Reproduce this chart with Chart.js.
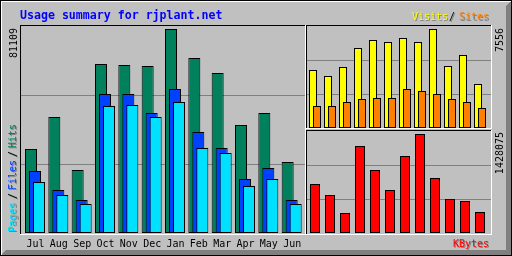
<!DOCTYPE html>
<html>
<head>
<meta charset="utf-8">
<script src="https://cdn.jsdelivr.net/npm/chart.js@4"></script>
<style>
  body { margin: 0; background: #c0c0c0; }
  #wrap { position: relative; width: 512px; height: 256px; }
  canvas { position: absolute; }
</style>
</head>
<body>
<div id="wrap">
  <canvas id="mainChart" width="512" height="256" style="left:0;top:0"></canvas>
  <canvas id="visitChart" width="184" height="102" style="left:307px;top:26px"></canvas>
  <canvas id="kbChart" width="184" height="103" style="left:307px;top:131px"></canvas>
</div>
<script>
// monthly summary
const months = ['Jul', 'Aug', 'Sep', 'Oct', 'Nov', 'Dec', 'Jan', 'Feb', 'Mar', 'Apr', 'May', 'Jun'];
const hits   = [33400, 46120, 25050, 67190, 66800, 66400, 81109, 69580, 63620, 42940, 47710, 28230];
const files  = [24650, 17100, 13120, 55270, 55270, 47710, 57250, 40160, 33800, 21470, 25840, 13120];
const pages  = [20280, 15110, 11530, 50500, 50890, 46120, 52090, 33800, 31810, 18690, 21470, 11530];
const visits = [4427, 3969, 4656, 6106, 6716, 6564, 6869, 6564, 7556, 4732, 5572, 3358];
const sites  = [1679, 1679, 1984, 2213, 2290, 2290, 2977, 2824, 2595, 2213, 1984, 1526];
const kbytes = [706800, 548200, 288500, 1255000, 908800, 620300, 1110700, 1428075, 793400, 490500, 461600, 302900];

// axis tops (a little above the tallest bar, like the original)
const hitsAxisMax = 82300;
const visitsAxisMax = 7785;
const kbAxisMax = 1471350;

const HIT_COLOR = '#00805c', FILE_COLOR = '#0040ff', PAGE_COLOR = '#00e0ff';
const VISIT_COLOR = '#ffff00', SITE_COLOR = '#ff8000', KBYTE_COLOR = '#ff0000';
const GRID_COLOR = '#808080', SHADOW = '#808080';
const FONT = '10px "DejaVu Sans Mono"';

const MAIN_STEP = 70 / 3;   // px per month, main panel
const SIDE_STEP = 15;       // px per month, right panels

function points(values, shift) {
    return values.map((v, i) => ({ x: i + shift, y: v }));
}

function barSet(values, shift, color, thickness) {
    return {
        data: points(values, shift),
        backgroundColor: color,
        borderColor: '#000000',
        borderWidth: 1,
        borderSkipped: false,
        inflateAmount: 0,
        barThickness: thickness,
        grouped: false
    };
}

// two grey lines at a third and two thirds of the value axis
const thirdsPlugin = {
    id: 'thirds',
    beforeDatasetsDraw(chart) {
        const ctx = chart.ctx;
        const area = chart.chartArea;
        const y = chart.scales.y;
        ctx.save();
        ctx.strokeStyle = GRID_COLOR;
        ctx.lineWidth = 1;
        [1 / 3, 2 / 3].forEach(t => {
            const py = Math.round(y.getPixelForValue(y.max * t)) + 0.5;
            ctx.beginPath();
            ctx.moveTo(area.left, py);
            ctx.lineTo(area.right, py);
            ctx.stroke();
        });
        ctx.restore();
    }
};

function shadowText(ctx, str, x, y, color) {
    ctx.fillStyle = SHADOW;
    ctx.fillText(str, x + 1, y + 1);
    ctx.fillStyle = color;
    ctx.fillText(str, x, y);
}

// text reading bottom to top
function upText(ctx, str, x, y, color, align, shadow) {
    ctx.save();
    ctx.translate(x, y);
    ctx.rotate(-Math.PI / 2);
    ctx.textAlign = align;
    ctx.textBaseline = 'alphabetic';
    if (shadow) {
        ctx.fillStyle = SHADOW;
        ctx.fillText(str, -1, 1);
    }
    ctx.fillStyle = color;
    ctx.fillText(str, 0, 0);
    ctx.restore();
}

function panel(ctx, x0, y0, x1, y1) {
    ctx.fillStyle = '#000000';
    ctx.fillRect(x0, y0, x1 - x0 + 1, 1);
    ctx.fillRect(x0, y0, 1, y1 - y0 + 1);
    ctx.fillStyle = '#ffffff';
    ctx.fillRect(x0, y1, x1 - x0 + 1, 1);
    ctx.fillRect(x1, y0, 1, y1 - y0 + 1);
}

const pagePlugin = {
    id: 'page',
    beforeDraw(chart) {
        const ctx = chart.ctx;
        ctx.save();
        ctx.fillStyle = '#c0c0c0';
        ctx.fillRect(0, 0, 512, 256);
        // bevel
        ctx.fillStyle = '#808080';
        ctx.beginPath();
        ctx.moveTo(511, 1); ctx.lineTo(511, 255); ctx.lineTo(1, 255);
        ctx.lineTo(6, 250); ctx.lineTo(506, 250); ctx.lineTo(506, 6);
        ctx.closePath();
        ctx.fill();
        ctx.fillStyle = '#ffffff';
        ctx.fillRect(1, 1, 510, 1);
        ctx.fillRect(1, 1, 1, 254);
        ctx.strokeStyle = '#000000';
        ctx.lineWidth = 1;
        ctx.strokeRect(0.5, 0.5, 511, 255);
        ctx.restore();
    },
    afterDraw(chart) {
        const ctx = chart.ctx;
        ctx.save();
        panel(ctx, 20, 25, 305, 234);
        panel(ctx, 306, 25, 491, 128);
        panel(ctx, 306, 130, 491, 234);

        // title
        ctx.font = 'bold 11.6px "DejaVu Sans Mono"';
        ctx.textBaseline = 'alphabetic';
        ctx.textAlign = 'left';
        ctx.fillStyle = '#0000ff';
        ctx.fillText('Usage summary for rjplant.net', 20, 19);

        ctx.font = FONT;
        // month labels under the main panel
        const xs = chart.scales.x;
        ctx.textAlign = 'center';
        ctx.fillStyle = '#000000';
        months.forEach((m, i) => {
            ctx.fillText(m, xs.getPixelForValue(i + 4 / MAIN_STEP) + 0.5, 247);
        });

        // maxima
        upText(ctx, String(Math.max(...hits)), 17, 28, '#000000', 'right', false);
        upText(ctx, String(Math.max(...visits)), 503, 28, '#000000', 'right', false);
        upText(ctx, String(Math.max(...kbytes)), 503, 132, '#000000', 'right', false);

        // left legend
        upText(ctx, 'Pages', 16, 232, PAGE_COLOR, 'left', true);
        upText(ctx, '/', 16, 199, '#000000', 'left', true);
        upText(ctx, 'Files', 16, 190, FILE_COLOR, 'left', true);
        upText(ctx, '/', 16, 157, '#000000', 'left', true);
        upText(ctx, 'Hits', 16, 148, HIT_COLOR, 'left', true);

        // right legends
        ctx.textAlign = 'left';
        shadowText(ctx, 'Visits', 412, 20, VISIT_COLOR);
        shadowText(ctx, '/', 449, 20, '#000000');
        shadowText(ctx, 'Sites', 459, 20, SITE_COLOR);
        ctx.textAlign = 'right';
        shadowText(ctx, 'KBytes', 489, 247, KBYTE_COLOR);
        ctx.restore();
    }
};

const baseOptions = (xMin, xMax, yMax, padding) => ({
    responsive: false,
    animation: false,
    devicePixelRatio: 1,
    layout: { padding: padding },
    plugins: { legend: { display: false }, tooltip: { enabled: false }, title: { display: false } },
    scales: {
        x: { type: 'linear', display: false, offset: false, min: xMin, max: xMax },
        y: { display: false, min: 0, max: yMax }
    }
});

// main panel: hits / files / pages (first dataset is drawn on top)
new Chart(document.getElementById('mainChart').getContext('2d'), {
    type: 'bar',
    data: {
        datasets: [
            barSet(pages, 8 / MAIN_STEP, PAGE_COLOR, 12),
            barSet(files, 4 / MAIN_STEP, FILE_COLOR, 12),
            barSet(hits, 0, HIT_COLOR, 12)
        ]
    },
    options: baseOptions(-10 / MAIN_STEP, 274 / MAIN_STEP, hitsAxisMax,
        { left: 21, top: 26, right: 207, bottom: 23 }),
    plugins: [pagePlugin, thirdsPlugin]
});

// top right: visits / sites
new Chart(document.getElementById('visitChart').getContext('2d'), {
    type: 'bar',
    data: {
        datasets: [
            barSet(sites, 4 / SIDE_STEP, SITE_COLOR, 8),
            barSet(visits, 0, VISIT_COLOR, 8)
        ]
    },
    options: baseOptions(-6 / SIDE_STEP, 178 / SIDE_STEP, visitsAxisMax, 0),
    plugins: [thirdsPlugin]
});

// bottom right: kbytes
new Chart(document.getElementById('kbChart').getContext('2d'), {
    type: 'bar',
    data: {
        datasets: [
            barSet(kbytes, 0, KBYTE_COLOR, 10)
        ]
    },
    options: baseOptions(-8 / SIDE_STEP, 176 / SIDE_STEP, kbAxisMax,
        { left: 0, top: 0, right: 0, bottom: 1 }),
    plugins: [thirdsPlugin]
});
</script>
</body>
</html>
